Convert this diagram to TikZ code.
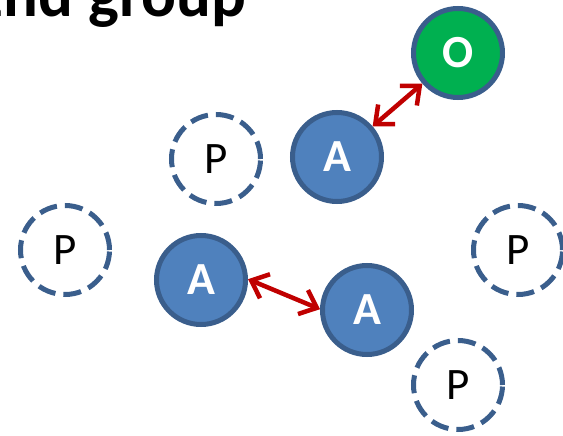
\documentclass[tikz,border=0pt]{standalone}
\usepackage{fontspec}
\setmainfont{Carlito}
\usetikzlibrary{arrows.meta}

\definecolor{ablue}{HTML}{4F81BD}
\definecolor{edgeblue}{HTML}{3A5E8C}
\definecolor{ogreen}{HTML}{00B050}
\definecolor{linkred}{HTML}{C00000}

\begin{document}
\begin{tikzpicture}[x=1pt, y=-1pt, line width = 5pt,
  anode/.style={circle, draw=edgeblue, fill=ablue, minimum size=89pt, inner sep=0pt,
    text=white, font=\bfseries\fontsize{46}{46}\selectfont},
  onode/.style={anode, fill=ogreen},
  pnode/.style={circle, draw=edgeblue, dash pattern=on 18pt off 8pt, minimum size=89pt,
    inner sep=0pt, font=\fontsize{45}{45}\selectfont},
  link/.style={draw=linkred, line width=4.5pt,
    {Straight Barb[length=15pt,width=26pt]}-{Straight Barb[length=15pt,width=26pt]}}]

\useasboundingbox (0,0) rectangle (563,436);

\node [anchor=base east, font=\bfseries\fontsize{65}{65}\selectfont] (title) at (252,17) {2nd group};

\node [onode] (O) at (458,53) {O};
\node [anode] (A1) at (337,157) {A};
\node [anode] (A2) at (201,280) {A};
\node [anode] (A3) at (367,310) {A};

\node [pnode] (P1) at (216,159) {P};
\node [pnode] (P2) at (65,250) {P};
\node [pnode] (P3) at (518,250) {P};
\node [pnode] (P4) at (458,385) {P};

\draw[link] (A1) -- (O);
\draw[link] (A2.1) -- (A3.179);
\end{tikzpicture}
\end{document}
